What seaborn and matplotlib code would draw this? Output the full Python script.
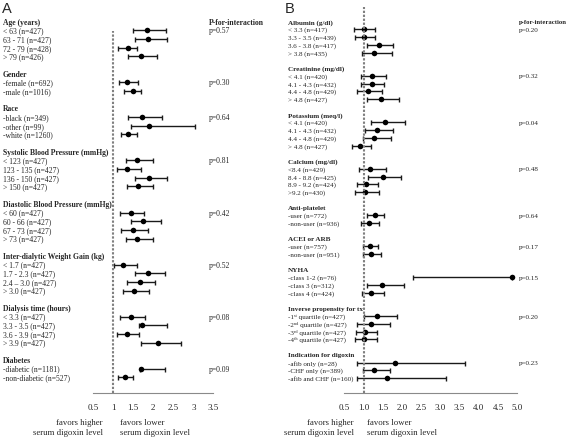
"""
Forest plot of serum digoxin level effect by subgroup (panels A and B).
"""

import numpy as np
import pandas as pd
import matplotlib.pyplot as plt
from matplotlib import transforms
import seaborn as sns

# ---- panel A data ----
a_groups = ["Age (years)", "Gender", "Race", "Systolic Blood Pressure (mmHg)",
            "Diastolic Blood Pressure (mmHg)", "Inter-dialytic Weight Gain (kg)",
            "Dialysis time (hours)", "Diabetes"]
a_items = [
    ["< 63 (n=427)", "63 - 71 (n=427)", "72 - 79 (n=428)", "> 79 (n=426)"],
    ["-female (n=692)", "-male (n=1016)"],
    ["-black (n=349)", "-other (n=99)", "-white (n=1260)"],
    ["< 123 (n=427)", "123 - 135 (n=427)", "136 - 150 (n=427)", "> 150 (n=427)"],
    ["< 60 (n=427)", "60 - 66 (n=427)", "67 - 73 (n=427)", "> 73 (n=427)"],
    ["< 1.7 (n=427)", "1.7 - 2.3 (n=427)", "2.4 \u2013 3.0 (n=427)", "> 3.0 (n=427)"],
    ["< 3.3 (n=427)", "3.3 - 3.5 (n=427)", "3.6 - 3.9 (n=427)", "> 3.9 (n=427)"],
    ["-diabetic (n=1181)", "-non-diabetic (n=527)"],
]
a_est = [[1.83, 1.87, 1.36, 1.68], [1.35, 1.48], [1.72, 1.90, 1.37],
         [1.60, 1.35, 1.88, 1.62], [1.43, 1.75, 1.49, 1.60],
         [1.25, 1.87, 1.66, 1.52], [1.43, 1.72, 1.33, 2.12], [1.70, 1.28]]
a_lo = [[1.48, 1.53, 1.11, 1.37], [1.13, 1.27], [1.37, 1.43, 1.20],
        [1.32, 1.09, 1.53, 1.33], [1.17, 1.43, 1.20, 1.32],
        [1.01, 1.54, 1.35, 1.23], [1.16, 1.65, 1.09, 1.68], [1.66, 1.11]]
a_hi = [[2.32, 2.34, 1.59, 2.08], [1.61, 1.69], [2.22, 3.05, 1.58],
        [1.99, 1.68, 2.33, 1.99], [1.76, 2.19, 1.87, 1.99],
        [1.58, 2.28, 2.04, 1.88], [1.79, 2.35, 1.65, 2.68], [2.28, 1.48]]
a_p = ["p=0.57", "p=0.30", "p=0.64", "p=0.81", "p=0.42", "p=0.52", "p=0.08", "p=0.09"]
a_ticks = [0.5, 1, 1.5, 2, 2.5, 3, 3.5]
a_ticklabels = ["0.5", "1", "1.5", "2", "2.5", "3", "3.5"]

# ---- panel B data ----
b_groups = ["Albumin (g/dl)", "Creatinine (mg/dl)", "Potassium (meq/l)", "Calcium (mg/dl)",
            "Anti-platelet", "ACEI or ARB", "NYHA", "Inverse propensity for tx",
            "Indication for digoxin"]
b_items = [
    ["< 3.3 (n=417)", "3.3 - 3.5 (n=439)", "3.6 - 3.8 (n=417)", "> 3.8 (n=435)"],
    ["< 4.1 (n=420)", "4.1 - 4.3 (n=432)", "4.4 - 4.8 (n=429)", "> 4.8 (n=427)"],
    ["< 4.1 (n=420)", "4.1 - 4.3 (n=432)", "4.4 - 4.8 (n=429)", "> 4.8 (n=427)"],
    ["<8.4 (n=429)", "8.4 - 8.8 (n=425)", "8.9 - 9.2 (n=424)", ">9.2 (n=430)"],
    ["-user (n=772)", "-non-user (n=936)"],
    ["-user (n=757)", "-non-user (n=951)"],
    ["-class 1-2 (n=76)", "-class 3 (n=312)", "-class 4 (n=424)"],
    ["-1\u02e2\u1d57 quartile (n=427)", "-2\u207f\u1d48 quartile (n=427)",
     "-3\u02b3\u1d48 quartile (n=427)", "-4\u1d57\u02b0 quartile (n=427)"],
    ["-afib only (n=28)", "-CHF only (n=389)", "-afib and CHF (n=160)"],
]
b_est = [[1.01, 1.01, 1.40, 1.28], [1.21, 1.21, 1.11, 1.45], [1.57, 1.35, 1.28, 0.91],
         [1.18, 1.50, 1.07, 1.04], [1.29, 1.15], [1.17, 1.20], [4.87, 1.49, 1.19],
         [1.36, 1.20, 1.04, 1.01], [1.83, 1.28, 1.60]]
b_lo = [[0.75, 0.78, 1.08, 0.95], [0.93, 0.94, 0.83, 1.08], [1.19, 1.03, 0.98, 0.69],
        [0.87, 1.12, 0.83, 0.78], [1.10, 0.94], [0.98, 0.98], [2.29, 1.08, 0.95],
        [1.00, 0.84, 0.80, 0.77], [0.82, 0.98, 0.82]]
b_hi = [[1.31, 1.30, 1.77, 1.75], [1.58, 1.54, 1.49, 1.93], [2.09, 1.76, 1.71, 1.20],
        [1.58, 1.97, 1.38, 1.41], [1.53, 1.41], [1.37, 1.46], [4.87, 2.06, 1.53],
        [1.87, 1.70, 1.34, 1.34], [3.64, 1.70, 3.15]]
b_p = ["p=0.20", "p=0.32", "p=0.04", "p=0.48", "p=0.64", "p=0.17", "p=0.15", "p=0.20", "p=0.23"]
b_ticks = [0.5, 1.0, 1.5, 2.0, 2.5, 3.0, 3.5, 4.0, 4.5, 5.0]
b_ticklabels = ["0.5", "1.0", "1.5", "2.0", "2.5", "3.0", "3.5", "4.0", "4.5", "5.0"]

W, H = 570, 439
AX_TOP, AX_BOT = 6, 394  # pixel rows of the plot area

sns.set_style("white")
plt.rcParams["font.family"] = ["Liberation Serif", "DejaVu Serif"]

fig = plt.figure(figsize=(W / 100, H / 100), dpi=100)


def build_rows(groups, items, est, lo, hi):
    """Headers and items get consecutive row numbers, a blank row between groups."""
    heads, recs = [], []
    r = 0
    for g, its, e, l, h in zip(groups, items, est, lo, hi):
        heads.append((r, g))
        for k, name in enumerate(its):
            recs.append(dict(row=r + 1 + k, label=name, est=e[k], lo=l[k], hi=h[k],
                             first=(k == 0)))
        r += len(its) + 2
    return heads, pd.DataFrame(recs)


def draw_panel(groups, items, est, lo, hi, pvals, ptitle, letter, cfg):
    heads, df = build_rows(groups, items, est, lo, hi)
    nrows = df.row.max()
    step = (cfg["last_y"] - cfg["first_y"]) / nrows
    left, right = cfg["x0"], cfg["x1"]
    ax = fig.add_axes([left / W, 1 - AX_BOT / H, (right - left) / W, (AX_BOT - AX_TOP) / H])

    ax.errorbar(df.est, df.row, xerr=[df.est - df.lo, df.hi - df.est], fmt="none",
                ecolor="#1a1a1a", elinewidth=1.0, capsize=1.8, capthick=1.0, zorder=2)
    sns.scatterplot(data=df, x="est", y="row", color="black", s=16, linewidth=0,
                    ax=ax, zorder=3, legend=False)
    ymax = (AX_BOT - cfg["ref_top"]) / (AX_BOT - AX_TOP)
    ax.axvline(1, ymin=0, ymax=ymax, color="#808080", lw=1.5, ls=(0, (1.1, 0.8)), zorder=4)

    ax.set_xlim(cfg["xlim"])
    ax.set_ylim(nrows + (AX_BOT - cfg["last_y"]) / step,
                -(cfg["first_y"] - AX_TOP) / step)
    ax.set(xlabel="", ylabel="", yticks=[])
    ax.set_xticks(cfg["ticks"])
    ax.set_xticklabels(cfg["ticklabels"])
    ax.tick_params(axis="x", direction="in", length=3, width=0.7, color="#8a8a8a",
                   labelsize=6.5, pad=7)
    for s in ["left", "right", "top"]:
        ax.spines[s].set_visible(False)
    ax.spines["bottom"].set_color("#8a8a8a")
    ax.spines["bottom"].set_linewidth(0.8)
    ax.set_facecolor("none")

    tr = transforms.blended_transform_factory(fig.transFigure, ax.transData)
    fs = cfg["fs"]
    for r, g in heads:
        ax.text(cfg["lab_x"] / W, r, g, transform=tr, fontsize=fs, fontweight="bold",
                va="center", ha="left", clip_on=False)
    for _, rec in df.iterrows():
        ax.text(cfg["lab_x"] / W, rec.row, rec.label, transform=tr, fontsize=fs,
                va="center", ha="left", clip_on=False)
    ax.text(cfg["p_x"] / W, 0, ptitle, transform=tr, fontsize=cfg["pt_fs"],
            fontweight="bold", va="center", ha="left", clip_on=False)
    first_rows = df[df["first"]].row.tolist()
    for r, p in zip(first_rows, pvals):
        ax.text(cfg["p_x"] / W, r, p, transform=tr, fontsize=fs, va="center",
                ha="left", clip_on=False)

    fig.text(cfg["letter_x"] / W, 1 - 9 / H, letter, fontsize=10.5, va="center",
             ha="left", family="Liberation Sans")
    for y, txt_l, txt_r in [(423, "favors higher", "favors lower"),
                            (433, "serum digoxin level", "serum digoxin level")]:
        fig.text(cfg["fav_l"] / W, 1 - y / H, txt_l, fontsize=6.3, ha="right", va="center")
        fig.text(cfg["fav_r"] / W, 1 - y / H, txt_r, fontsize=6.3, ha="left", va="center")
    return ax


draw_panel(a_groups, a_items, a_est, a_lo, a_hi, a_p, "P-for-interaction", "A",
           dict(x0=93.3, x1=213.3, xlim=(0.5, 3.5), first_y=22.7, last_y=378.3,
                ref_top=32, lab_x=3, p_x=209, fs=5.5, pt_fs=5.5, letter_x=2,
                ticks=a_ticks, ticklabels=a_ticklabels, fav_l=103, fav_r=120))
draw_panel(b_groups, b_items, b_est, b_lo, b_hi, b_p, "p-for-interaction", "B",
           dict(x0=344.3, x1=517.3, xlim=(0.5, 5.0), first_y=22.7, last_y=379,
                ref_top=8, lab_x=288, p_x=519, fs=5.1, pt_fs=4.8, letter_x=285,
                ticks=b_ticks, ticklabels=b_ticklabels, fav_l=353.5, fav_r=366.7))

fig.savefig("out.png", dpi=100)
